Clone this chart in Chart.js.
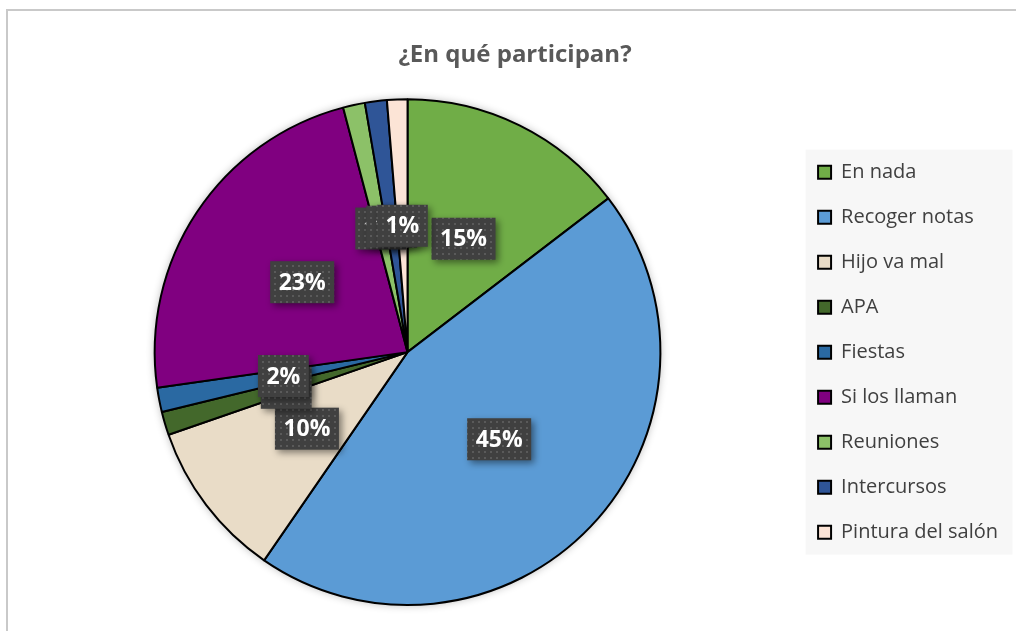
<!DOCTYPE html>
<html>
<head>
<meta charset="utf-8">
<script src="https://cdn.jsdelivr.net/npm/chart.js@4.4.0/dist/chart.umd.min.js"></script>
<style>
  html, body { margin: 0; padding: 0; background: #fff; overflow: hidden; }
  #frame {
    position: absolute; left: 6px; top: 9px; width: 1010px; height: 622px;
    border-top: 2px solid #c9c9c9; border-left: 2px solid #c9c9c9;
  }
  #wrap { position: absolute; left: 0; top: 0; width: 1008px; height: 620px; }
</style>
</head>
<body>
<div id="frame"><div id="wrap"><canvas id="chart"></canvas></div></div>
<script>
var categories = ['En nada', 'Recoger notas', 'Hijo va mal', 'APA', 'Fiestas',
                  'Si los llaman', 'Reuniones', 'Intercursos', 'Pintura del salón'];
var shares = [14.6, 45.0, 10.1, 1.5, 1.55, 23.15, 1.4, 1.4, 1.3];
var sliceColors = ['#70AD47', '#5B9BD5', '#E9DCC7', '#43682B', '#2A69A2',
                   '#800080', '#8CC168', '#2F5597', '#FCE4D6'];

// dotted dark fill used behind the data labels
function dotPattern(ctx) {
  var tile = document.createElement('canvas');
  tile.width = 6; tile.height = 6;
  var t = tile.getContext('2d');
  t.fillStyle = '#404040';
  t.fillRect(0, 0, 6, 6);
  t.fillStyle = '#5a5a5a';
  t.fillRect(2, 2, 2, 2);
  return ctx.createPattern(tile, 'repeat');
}

var legendBox = {
  id: 'legendBox',
  beforeDraw: function(chart) {
    var lg = chart.legend;
    if (!lg || !lg.legendHitBoxes.length) return;
    var half = lg.options.labels.padding / 2;
    var l = Infinity, t = Infinity, r = -Infinity, b = -Infinity;
    lg.legendHitBoxes.forEach(function(h) {
      l = Math.min(l, h.left); t = Math.min(t, h.top);
      r = Math.max(r, h.left + h.width); b = Math.max(b, h.top + h.height);
    });
    var ctx = chart.ctx;
    ctx.save();
    ctx.fillStyle = '#F7F7F7';
    ctx.fillRect(l - half, t - half, r - l + 2 * half + 2, b - t + 2 * half);
    ctx.restore();
  }
};

// soft shadow under the whole pie
var pieShadow = {
  id: 'pieShadow',
  beforeDatasetsDraw: function(chart) {
    var arc = chart.getDatasetMeta(0).data[0];
    if (!arc) return;
    var ctx = chart.ctx;
    ctx.save();
    ctx.shadowColor = 'rgba(0,0,0,0.3)';
    ctx.shadowBlur = 9;
    ctx.fillStyle = '#ffffff';
    ctx.beginPath();
    ctx.arc(arc.x, arc.y, arc.outerRadius, 0, Math.PI * 2);
    ctx.fill();
    ctx.restore();
  }
};

var sliceLabels = {
  id: 'sliceLabels',
  afterDatasetsDraw: function(chart) {
    var ctx = chart.ctx;
    var meta = chart.getDatasetMeta(0);
    var data = chart.data.datasets[0].data;
    var total = data.reduce(function(a, b) { return a + b; }, 0);
    var fill = dotPattern(ctx);
    ctx.save();
    ctx.font = 'bold 23px "Open Sans", sans-serif';
    ctx.textAlign = 'center';
    ctx.textBaseline = 'middle';
    meta.data.forEach(function(arc, i) {
      var p = arc.tooltipPosition();
      var txt = Math.round(data[i] / total * 100) + '%';
      var w = ctx.measureText(txt).width + 17;
      var h = 42;
      ctx.save();
      ctx.shadowColor = 'rgba(0,0,0,0.45)';
      ctx.shadowBlur = 7;
      ctx.shadowOffsetX = 3;
      ctx.shadowOffsetY = 3;
      ctx.fillStyle = fill;
      ctx.fillRect(p.x - w / 2, p.y - h / 2, w, h);
      ctx.restore();
      ctx.fillStyle = '#ffffff';
      ctx.fillText(txt, p.x, p.y + 1);
    });
    ctx.restore();
  }
};

new Chart(document.getElementById('chart'), {
  type: 'pie',
  data: {
    labels: categories,
    datasets: [{
      data: shares,
      backgroundColor: sliceColors,
      borderColor: '#000000',
      borderWidth: 2
    }]
  },
  options: {
    responsive: true,
    maintainAspectRatio: false,
    animation: false,
    layout: { padding: { left: 14, right: 8, top: 0, bottom: 25 } },
    plugins: {
      title: {
        display: true,
        text: '¿En qué participan?',
        color: '#595959',
        font: { family: '"Open Sans", sans-serif', size: 24, weight: 'bold', lineHeight: 1.2 },
        padding: { top: 29.6, bottom: 28.85 }
      },
      legend: {
        position: 'right',
        fullSize: false,
        labels: {
          color: '#404040',
          font: { family: '"Open Sans", sans-serif', size: 20 },
          boxWidth: 13,
          boxHeight: 13,
          padding: 25
        }
      },
      tooltip: { enabled: false }
    }
  },
  plugins: [legendBox, pieShadow, sliceLabels]
});
</script>
</body>
</html>
